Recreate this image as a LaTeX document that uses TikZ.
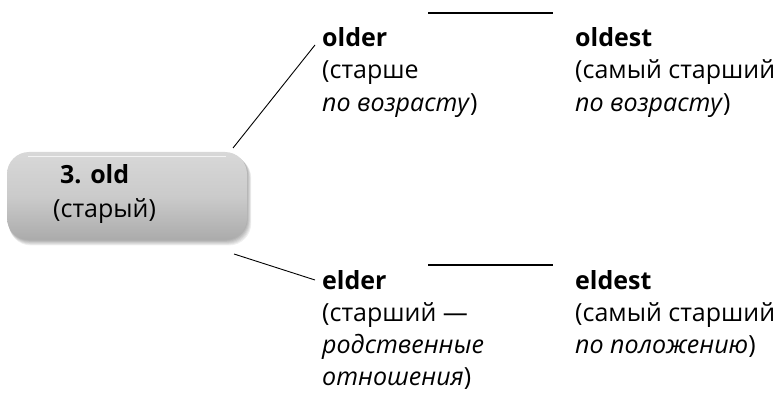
\documentclass[tikz,border=0pt]{standalone}
\usepackage{fontspec}
\setmainfont{Open Sans}
\definecolor{boxtop}{HTML}{D8D8D8}
\definecolor{boxmid}{HTML}{CBCBCB}
\definecolor{boxbot}{HTML}{ABABAB}
\begin{document}
\begin{tikzpicture}[x=1pt,y=-1pt,
  lbl/.style={anchor=north west, inner sep=0pt, align=left, font=\fontsize{25}{32.5}\selectfont},
  conn/.style={draw=black, line width=0.9pt},
  bar/.style={draw=black, line width=1.7pt},
  oldbox/.style={rectangle, rounded corners=22pt, minimum width=240pt, minimum height=88pt, top color=boxtop, bottom color=boxbot, middle color=boxmid, draw=none, inner sep=0pt}]
\useasboundingbox (0,0) rectangle (784,398);
% shadow
\foreach \i in {1,...,6}
  \fill[black, opacity=0.06, rounded corners=22pt] (7+\i*0.3,152+\i*0.7) rectangle (247+\i*0.7,240+\i*0.9);
\node[oldbox] (old) at (127,196) {};
\draw[white, opacity=0.7, line width=0.8pt] (28,156) -- (226,156);
\node[lbl, font=\fontsize{25}{34}\selectfont] (oldtxt) at (53,164) {\hspace*{7pt}\textbf{3. old}\\(старый)};
% labels
\node[lbl] (older) at (322,27) {\textbf{older}\\(старше\\\textit{по возрасту})};
\node[lbl] (oldest) at (575,27) {\textbf{oldest}\\(самый старший\\\textit{по возрасту})};
\node[lbl, font=\fontsize{25}{32.2}\selectfont] (elder) at (322,270) {\textbf{elder}\\(старший —\\\textit{родственные}\\\textit{отношения})};
\node[lbl, font=\fontsize{25}{32.2}\selectfont] (eldest) at (575,270) {\textbf{eldest}\\(самый старший\\\textit{по положению})};
% connectors
\coordinate (a1) at (233,148);
\coordinate (a2) at (315,45);
\coordinate (b1) at (234,254);
\coordinate (b2) at (315,280);
\coordinate (h1) at (428,13);
\coordinate (h2) at (553,13);
\coordinate (h3) at (428,265);
\coordinate (h4) at (553,265);
\draw[conn] (a1) -- (a2);
\draw[conn] (b1) -- (b2);
\draw[bar] (h1) -- (h2);
\draw[bar] (h3) -- (h4);
\end{tikzpicture}
\end{document}
